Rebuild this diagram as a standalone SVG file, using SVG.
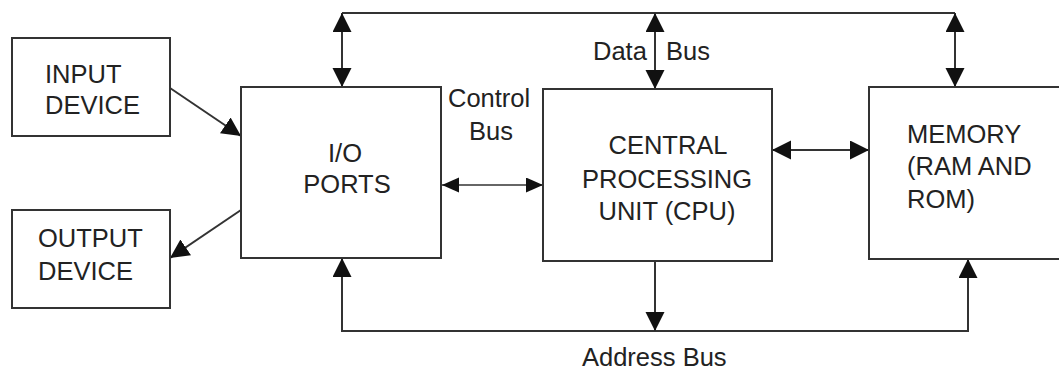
<svg xmlns="http://www.w3.org/2000/svg" width="1059" height="370" viewBox="0 0 1059 370">
<style>
.box{fill:#fff;stroke:#333;stroke-width:2}
.t{font-family:"Liberation Sans",Arial,sans-serif;font-size:25.5px;fill:#222}
.ln{fill:none;stroke:#333;stroke-width:2}
.thin{fill:none;stroke:#333;stroke-width:1.3}
</style>
<defs>
<marker id="ah" markerUnits="userSpaceOnUse" markerWidth="20" markerHeight="20" viewBox="0 0 20 20" refX="19" refY="9.5" orient="auto-start-reverse">
<path d="M0,0 L19,9.5 L0,19 z" fill="#111"/>
</marker>
<marker id="ahs" markerUnits="userSpaceOnUse" markerWidth="18" markerHeight="18" viewBox="0 0 18 18" refX="17" refY="7.5" orient="auto-start-reverse">
<path d="M0,0 L17,7.5 L0,15 z" fill="#111"/>
</marker>
</defs>
<rect width="1059" height="370" fill="#fff"/>
<g id="connectors">
<path class="ln" d="M342,13 H955"/>
<path class="ln" d="M342,13 V87" marker-start="url(#ah)" marker-end="url(#ah)"/>
<path class="ln" d="M655,13 V89" marker-start="url(#ah)" marker-end="url(#ah)"/>
<path class="ln" d="M955,13 V87" marker-start="url(#ah)" marker-end="url(#ah)"/>
<path class="ln" d="M342,258 V331 H968 V259" marker-start="url(#ah)" marker-end="url(#ah)"/>
<path class="ln" d="M655,261 V331" marker-end="url(#ah)"/>
<path class="thin" d="M442,185 H543" marker-start="url(#ahs)" marker-end="url(#ahs)"/>
<path class="ln" d="M772,150 H869" marker-start="url(#ah)" marker-end="url(#ah)"/>
<path class="ln" d="M170,88 L241,136" marker-end="url(#ah)"/>
<path class="ln" d="M241,210 L170,258" marker-end="url(#ah)"/>
</g>
<g id="input">
<rect class="box" x="12" y="38" width="158" height="98"/>
<text class="t" x="45" y="83">INPUT</text>
<text class="t" x="45" y="114">DEVICE</text>
</g>
<g id="output">
<rect class="box" x="12" y="210" width="158" height="98"/>
<text class="t" x="38" y="247">OUTPUT</text>
<text class="t" x="38" y="280">DEVICE</text>
</g>
<g id="io">
<rect class="box" x="241" y="87" width="200" height="171"/>
<text class="t" x="345" y="162" text-anchor="middle">I/O</text>
<text class="t" x="347" y="193" text-anchor="middle">PORTS</text>
</g>
<g id="cpu">
<rect class="box" x="543" y="89" width="229" height="172"/>
<text class="t" x="668" y="154" text-anchor="middle">CENTRAL</text>
<text class="t" x="667" y="188" text-anchor="middle">PROCESSING</text>
<text class="t" x="667" y="220" text-anchor="middle">UNIT (CPU)</text>
</g>
<g id="memory">
<rect class="box" x="869" y="87" width="195" height="172"/>
<text class="t" x="907" y="143">MEMORY</text>
<text class="t" x="907" y="175">(RAM AND</text>
<text class="t" x="907" y="208">ROM)</text>
</g>
<g id="labels">
<text class="t" x="593" y="60">Data</text>
<text class="t" x="666" y="60">Bus</text>
<text class="t" x="448" y="107">Control</text>
<text class="t" x="469" y="140">Bus</text>
<text class="t" x="582" y="366">Address Bus</text>
</g>
</svg>
